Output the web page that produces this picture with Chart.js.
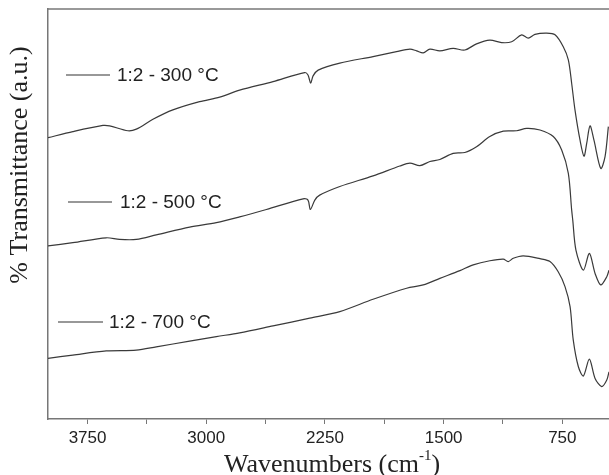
<!DOCTYPE html>
<html>
<head>
<meta charset="utf-8">
<script src="https://cdn.jsdelivr.net/npm/chart.js@4.4.1/dist/chart.umd.min.js"></script>
<style>
  html, body { margin: 0; padding: 0; background: #fff; overflow: hidden; }
</style>
</head>
<body>
<canvas id="grafica" width="609" height="475"></canvas>
<script>
// --- Datos ---
const seriesLabels = ['1:2 - 300 °C', '1:2 - 500 °C', '1:2 - 700 °C'];
const majorTicks = [3750, 3000, 2250, 1500, 750];
const minorTicks = [3375, 2625, 1875, 1125];

const wn300 = [4000, 3843, 3653, 3611, 3495, 3442, 3337, 3211, 3042, 2915, 2789, 2578, 2378, 2357, 2340, 2325, 2293, 2156, 1946, 1798, 1713, 1671, 1629, 1587, 1524, 1440, 1366, 1292, 1208, 1134, 1070, 1007, 965, 923, 849, 796, 744, 712, 691, 670, 638, 613, 596, 575, 550, 507, 480, 459];
const t300 = [68.6, 70.1, 71.6, 71.5, 70.3, 70.7, 73.1, 75.4, 77.4, 78.5, 80.2, 82.3, 84.5, 83.9, 81.9, 83.7, 85.1, 86.8, 88.4, 89.6, 90.2, 89.8, 89.3, 90.2, 89.8, 90.4, 90.0, 91.5, 92.4, 91.8, 92.0, 93.7, 92.9, 93.8, 94.1, 93.7, 90.8, 87.6, 81.9, 75.4, 68.0, 64.1, 67.2, 71.5, 68.0, 61.1, 64.0, 71.3];

const wn500 = [4000, 3843, 3632, 3548, 3442, 3316, 3105, 2936, 2789, 2620, 2388, 2357, 2342, 2314, 2283, 2156, 1946, 1777, 1713, 1650, 1587, 1524, 1440, 1366, 1292, 1208, 1123, 1039, 975, 891, 807, 754, 712, 691, 684, 664, 617, 579, 543, 507, 469, 455];
const t500 = [42.2, 43.0, 44.2, 43.8, 43.8, 44.9, 46.8, 47.9, 49.3, 51.1, 53.7, 53.4, 51.1, 53.4, 54.6, 56.7, 59.3, 61.7, 62.4, 61.8, 62.8, 63.3, 64.8, 65.0, 66.4, 68.9, 70.2, 70.3, 70.9, 70.5, 68.9, 65.6, 59.9, 51.0, 48.5, 41.2, 36.3, 40.4, 35.5, 32.7, 34.7, 36.3];

const wn700 = [4000, 3843, 3632, 3442, 3316, 3105, 2936, 2789, 2578, 2346, 2156, 1946, 1734, 1629, 1524, 1397, 1313, 1208, 1123, 1092, 1060, 997, 891, 828, 776, 733, 701, 681, 649, 617, 579, 543, 501, 469, 455];
const t700 = [14.8, 15.6, 16.6, 16.8, 17.6, 19.0, 20.1, 21.0, 22.7, 24.6, 26.2, 29.2, 31.9, 32.7, 34.3, 36.2, 37.6, 38.6, 39.0, 38.4, 39.2, 39.8, 39.1, 38.4, 35.9, 32.3, 27.4, 19.3, 12.8, 10.5, 14.6, 9.9, 7.9, 9.5, 11.5];

const toPoints = (xs, ys) => xs.map((x, i) => ({ x: x, y: ys[i] }));

// --- Etiquetas dentro del grafico y titulos ---
const etiquetas = [
  { x1: 66, x2: 110, y: 75, tx: 117 },
  { x1: 68, x2: 112, y: 202, tx: 120 },
  { x1: 58, x2: 103, y: 322, tx: 109 }
];

const decoracion = {
  id: 'decoracion',
  afterDraw(chart) {
    const { ctx, chartArea: a } = chart;
    ctx.save();
    // borde superior
    ctx.strokeStyle = '#777';
    ctx.lineWidth = 1.5;
    ctx.beginPath();
    ctx.moveTo(a.left, a.top);
    ctx.lineTo(a.right, a.top);
    ctx.stroke();

    // leyendas
    ctx.fillStyle = '#222';
    ctx.strokeStyle = '#333';
    ctx.lineWidth = 1.2;
    ctx.font = '19px "Liberation Sans", Arial, sans-serif';
    ctx.textBaseline = 'middle';
    etiquetas.forEach((e, i) => {
      ctx.beginPath();
      ctx.moveTo(e.x1, e.y);
      ctx.lineTo(e.x2, e.y);
      ctx.stroke();
      ctx.fillText(seriesLabels[i], e.tx, e.y + 1);
    });

    // titulo eje x con superindice
    ctx.textBaseline = 'alphabetic';
    const big = '26px "Liberation Serif", "Times New Roman", serif';
    const small = '15px "Liberation Serif", "Times New Roman", serif';
    const p1 = 'Wavenumbers (cm', p2 = '-1', p3 = ')';
    ctx.font = big;
    const w1 = ctx.measureText(p1).width, w3 = ctx.measureText(p3).width;
    ctx.font = small;
    const w2 = ctx.measureText(p2).width;
    let x = 332 - (w1 + w2 + w3) / 2;
    const base = 472;
    ctx.font = big; ctx.fillText(p1, x, base); x += w1;
    ctx.font = small; ctx.fillText(p2, x, base - 12); x += w2;
    ctx.font = big; ctx.fillText(p3, x, base);

    // titulo eje y
    ctx.translate(27, 165);
    ctx.rotate(-Math.PI / 2);
    ctx.textAlign = 'center';
    ctx.font = big;
    ctx.fillText('% Transmittance (a.u.)', 0, 0);
    ctx.restore();
  }
};

const lineStyle = { borderColor: '#3a3a3a', borderWidth: 1.2, pointRadius: 0, tension: 0.3, fill: false };

new Chart(document.getElementById('grafica'), {
  type: 'line',
  data: {
    datasets: [
      { label: seriesLabels[0], data: toPoints(wn300, t300), ...lineStyle },
      { label: seriesLabels[1], data: toPoints(wn500, t500), ...lineStyle },
      { label: seriesLabels[2], data: toPoints(wn700, t700), ...lineStyle }
    ]
  },
  options: {
    responsive: false,
    animation: false,
    layout: { padding: { top: 9, right: 0, left: 0, bottom: 0 } },
    plugins: { legend: { display: false }, tooltip: { enabled: false } },
    scales: {
      x: {
        type: 'linear',
        reverse: true,
        min: 455,
        max: 4000,
        afterBuildTicks: s => {
          s.ticks = majorTicks.concat(minorTicks).sort((a, b) => b - a).map(v => ({ value: v }));
        },
        afterFit: s => { s.height = 56; },
        grid: { drawOnChartArea: false, drawTicks: true, tickLength: 5, color: '#777', lineWidth: 1 },
        border: { display: true, color: '#777', width: 1.5 },
        ticks: {
          autoSkip: false,
          maxRotation: 0,
          padding: 4,
          color: '#222',
          font: { family: '"Liberation Sans", Arial, sans-serif', size: 17 },
          callback: v => majorTicks.includes(v) ? String(v) : ''
        }
      },
      y: {
        min: 0,
        max: 100,
        afterFit: s => { s.width = 48; },
        ticks: { display: false },
        grid: { display: false },
        border: { display: true, color: '#777', width: 1.5 }
      }
    }
  },
  plugins: [decoracion]
});
</script>
</body>
</html>
